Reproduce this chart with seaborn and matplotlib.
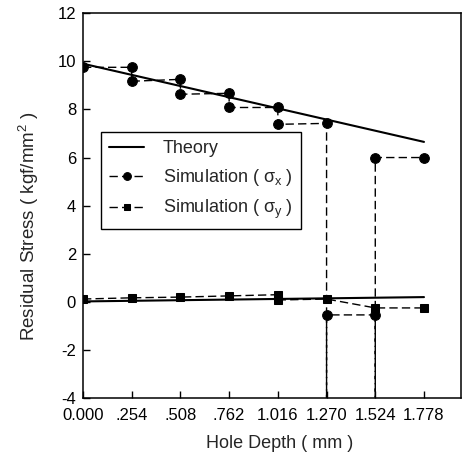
import matplotlib
matplotlib.use("Agg")
import matplotlib.pyplot as plt
import seaborn as sns
import pandas as pd

# Data
depth_ticks = [0.0, 0.254, 0.508, 0.762, 1.016, 1.270, 1.524, 1.778]
depth_labels = ["0.000", ".254", ".508", ".762", "1.016", "1.270", "1.524", "1.778"]

theory_x_depth = [0.0, 1.778]
theory_x_stress = [9.9, 6.65]
theory_y_depth = [0.0, 1.778]
theory_y_stress = [0.02, 0.2]

sim_x_depth = [0.0, 0.254, 0.254, 0.508, 0.508, 0.762, 0.762, 1.016, 1.016,
               1.270, 1.270, 1.270, 1.524, 1.524, 1.524, 1.778]
sim_x_stress = [9.75, 9.75, 9.17, 9.25, 8.63, 8.67, 8.08, 8.08, 7.38,
                7.42, -6.0, -0.54, -0.54, -6.0, 6.0, 6.0]

sim_y_depth = [0.0, 0.254, 0.508, 0.762, 1.016, 1.016, 1.270, 1.524, 1.778]
sim_y_stress = [0.12, 0.17, 0.2, 0.25, 0.3, 0.08, 0.12, -0.25, -0.25]

sns.set_style("ticks")
plt.rcParams['font.family'] = ['Liberation Sans', 'DejaVu Sans']
plt.rcParams['mathtext.fontset'] = 'custom'
plt.rcParams['mathtext.rm'] = 'Liberation Sans'
plt.rcParams['mathtext.it'] = 'Liberation Sans'
plt.rcParams['axes.unicode_minus'] = False

fig = plt.figure(figsize=(4.65, 4.54), dpi=100)
ax = fig.add_axes([0.1785, 0.123, 0.8125, 0.848])

df_tx = pd.DataFrame({"d": theory_x_depth, "s": theory_x_stress})
df_ty = pd.DataFrame({"d": theory_y_depth, "s": theory_y_stress})
df_sx = pd.DataFrame({"d": sim_x_depth, "s": sim_x_stress})
df_sy = pd.DataFrame({"d": sim_y_depth, "s": sim_y_stress})

sns.lineplot(data=df_tx, x="d", y="s", ax=ax, color="black", lw=1.5,
             sort=False, estimator=None, label="Theory")
sns.lineplot(data=df_ty, x="d", y="s", ax=ax, color="black", lw=1.5,
             sort=False, estimator=None, label="_nolegend_")
sns.lineplot(data=df_sx, x="d", y="s", ax=ax, color="black", lw=1.0,
             sort=False, estimator=None, marker="o", markersize=7,
             markeredgecolor="black", markerfacecolor="black",
             dashes=False, linestyle=(0, (6, 3)),
             label=r"Simulation ( $\sigma_x$ )")
sns.lineplot(data=df_sy, x="d", y="s", ax=ax, color="black", lw=1.0,
             sort=False, estimator=None, marker="s", markersize=6,
             markeredgecolor="black", markerfacecolor="black",
             dashes=False, linestyle=(0, (6, 3)),
             label=r"Simulation ( $\sigma_y$ )")

ax.set_xlim(0, 1.97)
ax.set_ylim(-4, 12)
ax.set_xticks(depth_ticks)
ax.set_xticklabels(depth_labels)
ax.set_yticks(range(-4, 13, 2))
ax.tick_params(direction="in", length=5, width=1, labelsize=12, colors="black")
ax.tick_params(axis="x", pad=7)
ax.tick_params(axis="y", pad=5)
for sp in ax.spines.values():
    sp.set_visible(True)
    sp.set_color("black")
    sp.set_linewidth(1.1)

ax.set_xlabel("Hole Depth ( mm )", fontsize=13)
ax.set_ylabel(r"Residual Stress ( kgf/mm$^2$ )", fontsize=13.5)
ax.xaxis.set_label_coords(0.52, -0.095)
ax.yaxis.set_label_coords(-0.11, 0.447)

leg = ax.legend(loc="upper left", bbox_to_anchor=(0.048, 0.691), fontsize=13,
                frameon=True, fancybox=False, framealpha=1, edgecolor="black",
                handlelength=1.95, handletextpad=1.0, borderpad=0.45,
                labelspacing=0.55, borderaxespad=0, markerscale=0.8)
leg.get_frame().set_linewidth(1.0)

fig.savefig("out.png", dpi=100)
